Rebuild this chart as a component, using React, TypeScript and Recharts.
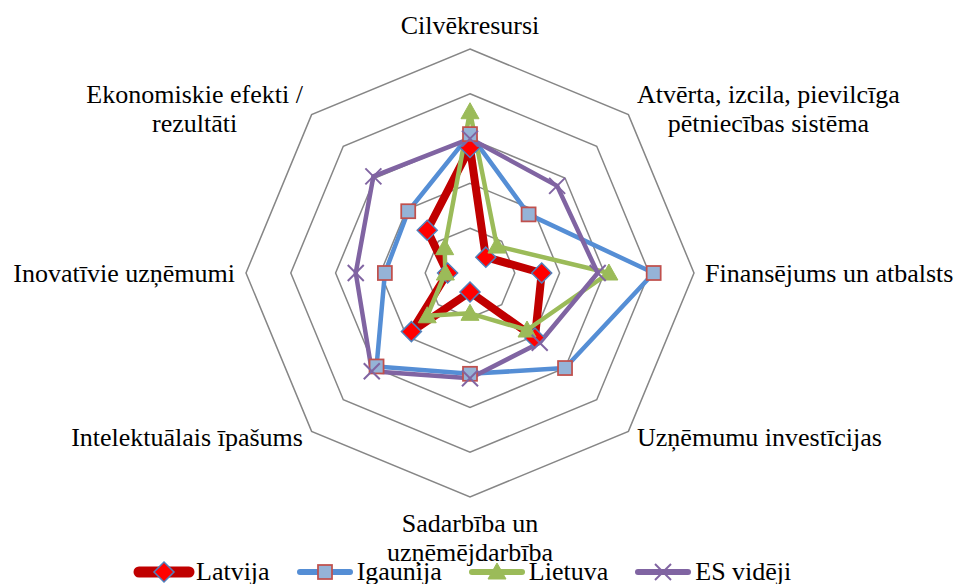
import React from "react";
import {
  RadarChart,
  Radar,
  PolarGrid,
  PolarAngleAxis,
  PolarRadiusAxis,
  Legend,
} from "recharts";

// ─── Dati ─────────────────────────────────────────────────────────────────────

const categories = [
  "Cilvēkresursi",
  "Atvērta, izcila, pievilcīga\npētniecības sistēma",
  "Finansējums un atbalsts",
  "Uzņēmumu investīcijas",
  "Sadarbība un\nuzņēmējdarbība",
  "Intelektuālais īpašums",
  "Inovatīvie uzņēmumi",
  "Ekonomiskie efekti /\nrezultāti",
];

const latvija = [0.56, 0.1, 0.32, 0.41, 0.085, 0.37, 0.1, 0.27];
const igaunija = [0.62, 0.37, 0.82, 0.6, 0.45, 0.59, 0.38, 0.39];
const lietuva = [0.72, 0.17, 0.62, 0.36, 0.18, 0.27, 0.11, 0.16];
const esVideji = [0.6, 0.55, 0.57, 0.44, 0.47, 0.62, 0.51, 0.61];

const radiusTicks = [0, 0.2, 0.4, 0.6, 0.8, 1];

const data = categories.map((c, i) => ({
  cat: c,
  Latvija: latvija[i],
  Igaunija: igaunija[i],
  Lietuva: lietuva[i],
  "ES vidēji": esVideji[i],
}));

// ─── Stils ────────────────────────────────────────────────────────────────────

const W = 960;
const H = 584;
const CX = 470;
const CY = 273;
const R = 224;
const FONT = '"Liberation Serif", "Times New Roman", serif';
const FS = 26;
const LH = 29;

type MarkerKind = "diamond" | "square" | "triangle" | "cross";

const series: {
  name: string;
  color: string;
  width: number;
  marker: MarkerKind;
}[] = [
  { name: "Latvija", color: "#C00000", width: 8, marker: "diamond" },
  { name: "Igaunija", color: "#558ED5", width: 4.5, marker: "square" },
  { name: "Lietuva", color: "#9BBB59", width: 4.5, marker: "triangle" },
  { name: "ES vidēji", color: "#8064A2", width: 4.5, marker: "cross" },
];

function Marker({ kind, cx, cy }: { kind: MarkerKind; cx: number; cy: number }) {
  if (kind === "diamond") {
    const d = 10;
    return (
      <polygon
        points={`${cx},${cy - d} ${cx + d},${cy} ${cx},${cy + d} ${cx - d},${cy}`}
        fill="#FF0000"
        stroke="#4F81BD"
        strokeWidth={1.5}
      />
    );
  }
  if (kind === "square") {
    const s = 7;
    return (
      <rect
        x={cx - s}
        y={cy - s}
        width={s * 2}
        height={s * 2}
        fill="#95B3D7"
        stroke="#C0504D"
        strokeWidth={1.75}
      />
    );
  }
  if (kind === "triangle") {
    return (
      <polygon
        points={`${cx},${cy - 9} ${cx + 9},${cy + 7} ${cx - 9},${cy + 7}`}
        fill="#9BBB59"
        stroke="#9BBB59"
        strokeWidth={1}
      />
    );
  }
  const c = 8;
  return (
    <g stroke="#8064A2" strokeWidth={2}>
      <line x1={cx - c} y1={cy - c} x2={cx + c} y2={cy + c} />
      <line x1={cx - c} y1={cy + c} x2={cx + c} y2={cy - c} />
    </g>
  );
}

// ─── Etiķetes ─────────────────────────────────────────────────────────────────

let ctx: CanvasRenderingContext2D | null = null;
function textWidth(s: string) {
  if (!ctx) ctx = document.createElement("canvas").getContext("2d");
  if (!ctx) return s.length * FS * 0.45;
  ctx.font = `${FS}px ${FONT}`;
  return ctx.measureText(s).width;
}

function AxisLabel(props: any) {
  const { x, y, payload } = props;
  const lines = String(payload.value).split("\n");
  const w = Math.max(...lines.map(textWidth));
  const dx = x - CX;
  const dy = y - CY;
  let ax = x;
  if (dx > 1) ax = x + 3 + w / 2;
  else if (dx < -1) ax = x - 3 - w / 2;
  let first: number;
  if (Math.abs(dx) <= 1 && dy < 0) first = y - 7 - (lines.length - 1) * LH;
  else if (Math.abs(dx) <= 1 && dy > 0) first = y + 27;
  else first = y - ((lines.length - 1) * LH) / 2 + 9;
  return (
    <text
      x={ax}
      y={first}
      textAnchor="middle"
      fontFamily={FONT}
      fontSize={FS}
      fill="#000"
    >
      {lines.map((l, i) => (
        <tspan key={i} x={ax} dy={i === 0 ? 0 : LH}>
          {l}
        </tspan>
      ))}
    </text>
  );
}

// ─── Leģenda ──────────────────────────────────────────────────────────────────

function LegendContent() {
  return (
    <div
      style={{
        display: "flex",
        alignItems: "center",
        paddingLeft: 134,
        height: 30,
        fontFamily: FONT,
        fontSize: FS,
        lineHeight: "30px",
        color: "#000",
      }}
    >
      {series.map((s) => (
        <div
          key={s.name}
          style={{ display: "flex", alignItems: "center", marginRight: 25 }}
        >
          <svg width={60} height={24} style={{ overflow: "visible" }}>
            <line
              x1={5}
              x2={55}
              y1={12}
              y2={12}
              stroke={s.color}
              strokeWidth={s.marker === "diamond" ? 11 : 6}
              strokeLinecap="round"
            />
            <Marker kind={s.marker} cx={30} cy={12} />
          </svg>
          <span style={{ marginLeft: 2, whiteSpace: "nowrap" }}>{s.name}</span>
        </div>
      ))}
    </div>
  );
}

// ─── Galvenais ────────────────────────────────────────────────────────────────

export default function App() {
  return (
    <div
      style={{
        position: "absolute",
        left: 0,
        top: 0,
        width: W,
        height: H,
        background: "#fff",
        overflow: "hidden",
      }}
    >
      <RadarChart
        width={W}
        height={H}
        data={data}
        cx={CX}
        cy={CY}
        outerRadius={R}
        margin={{ top: 0, right: 0, bottom: 0, left: 0 }}
      >
        <PolarGrid
          gridType="polygon"
          radialLines={false}
          stroke="#868686"
          strokeWidth={1.5}
        />
        <PolarRadiusAxis
          domain={[0, 1]}
          ticks={radiusTicks as any}
          tickCount={6}
          tick={false}
          axisLine={false}
        />
        <PolarAngleAxis
          dataKey="cat"
          tick={<AxisLabel />}
          tickLine={false}
          axisLine={false}
        />
        {series.map((s) => (
          <Radar
            key={s.name}
            name={s.name}
            dataKey={s.name}
            stroke={s.color}
            strokeWidth={s.width}
            strokeLinejoin="round"
            fill="none"
            fillOpacity={0}
            isAnimationActive={false}
            dot={(p: any) => (
              <Marker key={`${s.name}-${p.index}`} kind={s.marker} cx={p.cx} cy={p.cy} />
            )}
          />
        ))}
        <Legend
          verticalAlign="middle"
          content={<LegendContent />}
          wrapperStyle={{ left: 0, top: 557, width: W, height: 30 }}
        />
      </RadarChart>
    </div>
  );
}
